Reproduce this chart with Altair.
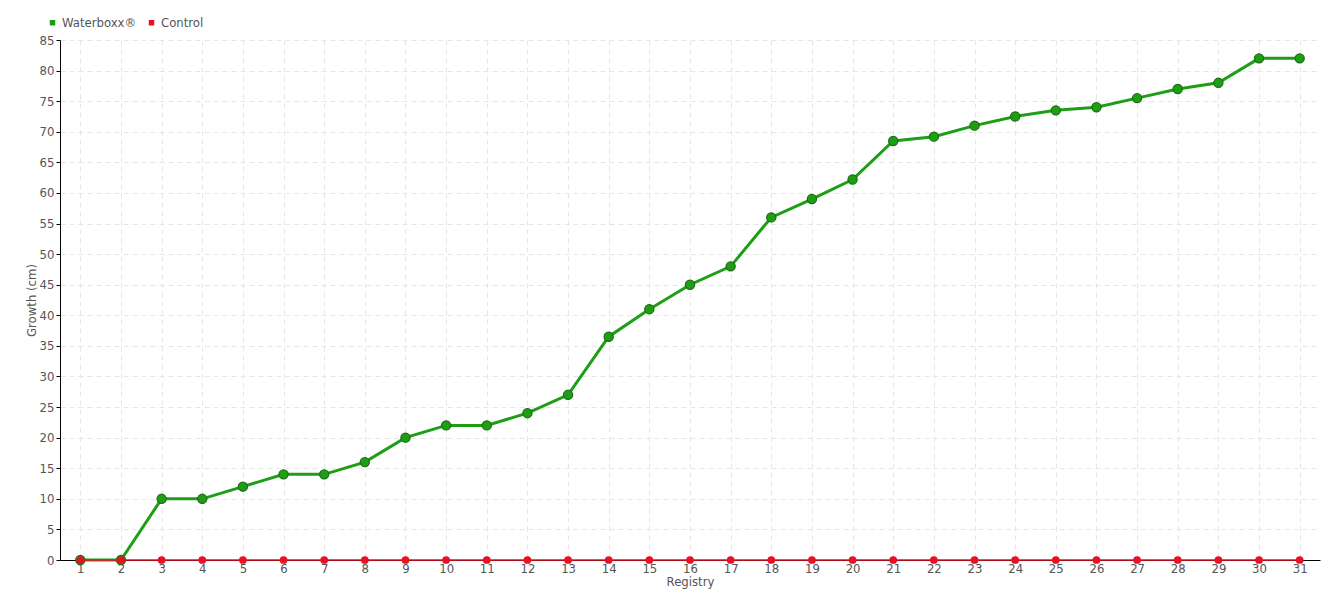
import altair as alt
import pandas as pd

registry = list(range(1, 32))
waterboxx = [0, 0, 10, 10, 12, 14, 14, 16, 20, 22, 22, 24, 27, 36.5, 41, 45, 48, 56, 59, 62.2,
             68.5, 69.2, 71, 72.5, 73.5, 74, 75.5, 77, 78, 82, 82]
control = [0] * 31
series_names = ["Waterboxx®", "Control"]
colors = ["#1e9e14", "#ea1024"]

rows = []
for r, w, c in zip(registry, waterboxx, control):
    rows.append({"Registry": str(r), "order": r, "series": series_names[0], "value": w})
    rows.append({"Registry": str(r), "order": r, "series": series_names[1], "value": c})
df = pd.DataFrame(rows)

FONT = "DejaVu Sans Condensed"
x_enc = alt.X("Registry:O", sort=[str(r) for r in registry],
              scale=alt.Scale(type="point", padding=0.5),
              axis=alt.Axis(title="Registry", labelAngle=0, ticks=False, labelPadding=2,
                            grid=True, gridDash=[5, 4], gridColor="#e6e6e6",
                            domainColor="#000000", titlePadding=0))
y_enc = alt.Y("value:Q", scale=alt.Scale(domain=[0, 85], nice=False),
              axis=alt.Axis(title="Growth (cm)", values=list(range(0, 90, 5)),
                            grid=True, gridDash=[5, 4], gridColor="#e6e6e6",
                            domainColor="#000000", tickColor="#000000", tickSize=4,
                            labelPadding=2, titlePadding=1))
fill_enc = alt.Fill("series:N", scale=alt.Scale(domain=series_names, range=colors),
                    legend=alt.Legend(title=None, orient="none", legendX=-14, legendY=-24,
                                      direction="horizontal", symbolType="square",
                                      symbolSize=30, columnPadding=8, labelFontSize=13,
                                      symbolStrokeWidth=0, labelOffset=3,
                                      labelColor="#555555", labelFont=FONT, symbolOffset=0))

base = alt.Chart(df).encode(x=x_enc, y=y_enc)

green = base.transform_filter(alt.datum.series == series_names[0])
red = base.transform_filter(alt.datum.series == series_names[1])

g_line = green.mark_line(strokeWidth=3, color=colors[0])
g_pts = green.mark_circle(size=85, opacity=1, fillOpacity=1, stroke="#1a6e14",
                          strokeWidth=1.2).encode(fill=fill_enc)
r_line = red.mark_line(strokeWidth=1.5, color=colors[1])
r_pts = red.mark_circle(size=60, opacity=1, color=colors[1])

chart = alt.layer(g_line, g_pts, r_line, r_pts).properties(
    width=1260, height=520,
    autosize=alt.AutoSizeParams(type="none"),
    padding={"left": 52, "top": 32, "right": 8, "bottom": 32},
).configure_view(stroke=None).configure_axis(
    labelFont=FONT, titleFont=FONT, labelFontSize=13, titleFontSize=13,
    labelColor="#555555", titleColor="#555555", titleFontWeight="normal",
)

chart.save("out.html", embed_options={"renderer": "svg", "actions": False})
